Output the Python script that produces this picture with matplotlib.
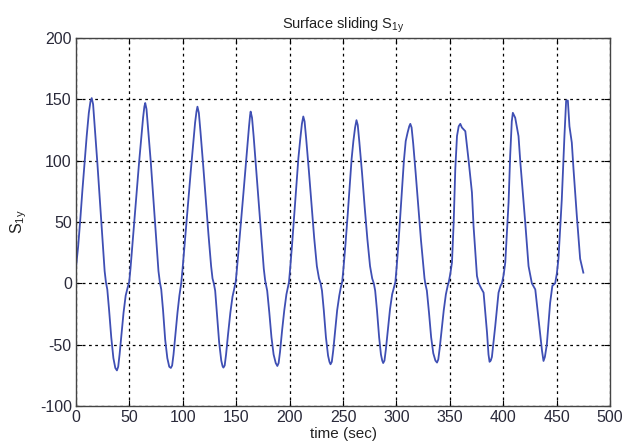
import matplotlib
matplotlib.use("Agg")
import matplotlib.pyplot as plt

# sliding surface S_1y
t = [0, 2, 4, 6, 8, 10, 12, 13.5, 14.7,
     16, 17.5, 20, 22.5, 25, 26.8, 28, 29.3, 31, 33, 35, 36.8, 38.3, 39.5, 40.8, 42.5, 44.5, 46.5, 48.5,
     49.8, 51, 53, 55, 57, 59, 61, 62.8, 64, 64.8,
     66, 67.5, 70, 72.5, 75, 77.2, 78.5, 79.8, 81.5, 83.5, 85.5, 87.3, 88.8, 90, 91.3, 93, 95, 96.8,
     98.5, 99.7, 101.7, 103.7, 105.7, 107.7, 109.7, 111.5, 112.8, 113.7,
     115, 116.5, 119, 121.5, 124, 126.5, 127.8, 129, 130.3, 132, 134, 136, 137.2, 138, 139.2, 140.5, 142.3,
     144.5, 146.5, 148.2, 149.5, 150.7, 152.7, 154.7, 156.7, 158.7, 160.5, 162, 163, 163.5,
     164.8, 166.3, 168.5, 171, 173.5, 175.8, 177, 177.6, 179, 181, 183, 185, 187, 188.5, 189.7, 191, 193,
     195, 197, 198.5, 199.4, 200.6, 202.5, 204.5, 206.5, 208.2, 210, 211.5, 212.8,
     214, 215.5, 218, 220.5, 223, 225.5, 227.5, 229, 230.3, 232, 234, 236, 237.3, 238.3, 239.5, 240.8,
     242.5, 244.5, 246.5, 248, 249.2, 250.4, 252.3, 254.3, 256.3, 258, 259.7, 261.3, 262.6,
     263.8, 265.3, 267.8, 270.3, 272.8, 275.3, 277.3, 278.8, 280.1, 281.8, 283.8, 285.5, 286.7, 287.6,
     288.8, 290.1, 292, 294, 296, 297.8, 299, 300.2, 302, 303.8, 305.5, 307, 308.7, 310.5, 312, 313,
     314.2, 315.7, 318, 320.5, 323, 325.3, 326.3, 327, 328.5, 330.5, 332.5, 334.5, 336.5, 338, 339.2,
     340.5, 342.3, 344.3, 346.3, 348, 349, 350.5, 352, 353.6, 355.1, 356.7, 358.3, 359.8,
     361.3, 362.9, 364.5, 367.6, 370.7, 372.2, 375.4, 377, 379.3, 381.6, 384.8, 386.2, 387.2, 388.3,
     389.4, 392.5, 395.6, 397.5, 398.8, 400.4, 401.9, 405, 406.5, 408, 409, 411.2, 414.3, 415.9, 420.6,
     423.7, 426.8, 430, 433, 436.3, 437.7, 439, 440.8, 443.9, 446, 448.6, 450.2, 451.7, 454.8, 457.3,
     458.9, 460.5, 462, 464.2, 465.8, 468.9, 472, 475]
s1y = [13, 30, 52, 76, 98, 120, 139, 148, 151,
       146, 128, 98, 66, 34, 10, 1, -5, -22, -44, -61, -69, -71, -68, -58, -42, -24, -10, -3,
       1, 12, 33, 55, 77, 98, 118, 135, 144, 147,
       142, 126, 99, 68, 38, 10, 1, -5, -22, -46, -61, -68, -69, -67, -58, -42, -24, -10,
       0, 11, 32, 52, 73, 94, 114, 131, 140, 144,
       139, 124, 97, 68, 40, 14, 4, 0, -6, -25, -48, -63, -67.5, -68.7, -67, -58, -42,
       -24, -11, -4, 1, 12, 32, 52, 73, 94, 113, 128, 137, 140,
       135, 120, 95, 66, 38, 12, 3, 0, -6, -24, -44, -58, -65, -67.4, -65, -56, -38,
       -22, -9, -3, 1, 13, 34, 58, 82, 102, 118, 130, 136,
       132, 118, 92, 64, 37, 14, 4, 0, -6, -22, -44, -59, -64, -66, -64, -55,
       -40, -22, -10, -3, 1, 12, 32, 55, 80, 101, 116, 127, 133,
       129, 115, 90, 62, 36, 14, 4, 0, -6, -22, -44, -58, -63, -65,
       -63, -54, -38, -21, -9, -3, 1, 13, 34, 58, 82, 100, 116, 123, 128, 130,
       127, 114, 90, 62, 35, 13, 4, 0, -6, -24, -44, -57, -63, -64.6, -62,
       -53, -38, -22, -9, -2, 1, 8, 17, 49.5, 93, 120, 128, 130,
       127, 125.5, 124, 100, 74, 46.7, 6, 0, -4, -7.6, -40, -58, -64, -63,
       -60, -35, -7.6, -2, 0, 7, 17, 66, 104, 132, 139, 135, 120, 100, 49.5,
       14, 0, -5, -29, -55, -63.3, -60, -50, -16, -2, 0, 8, 20, 68, 120,
       149, 149, 128, 114.7, 93, 55, 20, 8.7]

xticks = [0, 50, 100, 150, 200, 250, 300, 350, 400, 450, 500]
yticks = [-100, -50, 0, 50, 100, 150, 200]

plt.rcParams['font.family'] = ['Liberation Sans', 'DejaVu Sans']
plt.rcParams['axes.unicode_minus'] = False
plt.rcParams['mathtext.fontset'] = 'custom'
plt.rcParams['mathtext.rm'] = 'Liberation Sans'

fig = plt.figure(figsize=(6.23, 4.48), dpi=100)
ax = fig.add_axes([0.1220, 0.0938, 0.8572, 0.8214])
ax.plot(t, s1y, color='#3f4fb4', linewidth=1.3)

ax.set_xlim(0, 500)
ax.set_ylim(-100, 200)
ax.set_xticks(xticks)
ax.set_yticks(yticks)
ax.tick_params(direction='in', length=4, labelsize=11.5, labelcolor='#2a2a3a',
               top=True, right=True, pad=3)
ax.grid(True, color='black', linestyle=(0, (2.2, 2.8)), linewidth=0.9)
for sp in ax.spines.values():
    sp.set_color('#444444')
    sp.set_linewidth(1.0)

ax.set_title(r'Surface sliding S$_\mathrm{1y}$', fontsize=10.5, color='#222222', pad=7)
ax.set_xlabel('time (sec)', fontsize=11, color='#222222', labelpad=1)
ax.set_ylabel(r'S$_\mathrm{1y}$', fontsize=11.5, color='#222222', labelpad=8)

fig.savefig('out.png', dpi=100)
